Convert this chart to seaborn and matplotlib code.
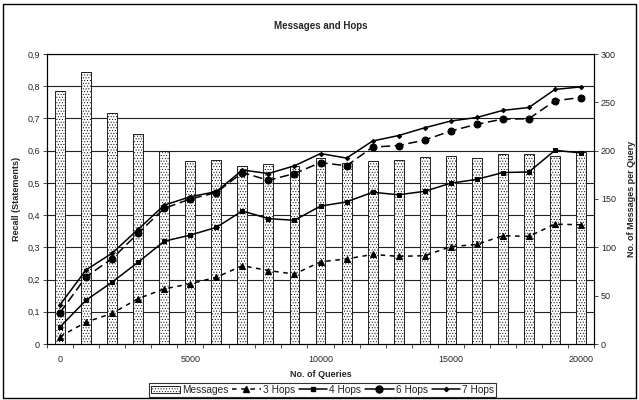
import numpy as np
import pandas as pd
import matplotlib
matplotlib.use('Agg')
import matplotlib.pyplot as plt
import seaborn as sns
from matplotlib.patches import Rectangle, Patch
from matplotlib.lines import Line2D
from matplotlib.ticker import FuncFormatter, FixedLocator

queries = list(range(0, 20001, 1000))
messages = [262, 281, 239, 217, 200, 189, 190, 184, 186, 184, 192, 187,
            189, 190, 193, 194, 192, 197, 197, 195, 199]
hops3 = [0.023, 0.068, 0.095, 0.141, 0.171, 0.187, 0.207, 0.243, 0.228, 0.217, 0.255,
         0.264, 0.278, 0.272, 0.274, 0.302, 0.309, 0.336, 0.334, 0.372, 0.370]
hops4 = [0.053, 0.136, 0.192, 0.254, 0.319, 0.338, 0.362, 0.413, 0.389, 0.384, 0.428,
         0.441, 0.471, 0.463, 0.474, 0.499, 0.511, 0.532, 0.534, 0.601, 0.593]
hops6 = [0.097, 0.209, 0.265, 0.344, 0.421, 0.450, 0.470, 0.532, 0.508, 0.529, 0.563,
         0.553, 0.611, 0.616, 0.633, 0.661, 0.682, 0.698, 0.699, 0.755, 0.765]
hops7 = [0.122, 0.230, 0.282, 0.356, 0.431, 0.457, 0.473, 0.540, 0.529, 0.553, 0.591,
         0.577, 0.630, 0.647, 0.671, 0.692, 0.703, 0.725, 0.734, 0.790, 0.798]

df = pd.DataFrame({'queries': queries, 'messages': messages,
                   'h3': hops3, 'h4': hops4, 'h6': hops6, 'h7': hops7})

sns.set_style('white')
plt.rcParams['font.family'] = ['Liberation Sans', 'DejaVu Sans']
plt.rcParams['hatch.linewidth'] = 0.4

fig = plt.figure(figsize=(6.39, 4.0), dpi=100)
ax = fig.add_axes([0.0736, 0.14, 0.856, 0.725])
ax2 = ax.twinx()

# bars on the right axis
sns.barplot(data=df, x='queries', y='messages', ax=ax2, native_scale=True,
            width=0.38, color='white', edgecolor='black', linewidth=0.6,
            hatch='......', zorder=2)
ax2.set_ylim(0, 300)
ax2.set_yticks(range(0, 301, 50))
for k in range(1, 10):
    ax2.axhline(k * 300 / 9, color='#222222', lw=0.8, zorder=0)

# lines on the left axis, drawn above the bars
ax.set_zorder(ax2.get_zorder() + 1)
ax.patch.set_visible(False)
kw = dict(color='black', lw=1.1, markeredgecolor='black', ax=ax)
sns.lineplot(data=df, x='queries', y='h3', marker='^', markersize=4.5,
             linestyle=(0, (3, 3)), **kw)
sns.lineplot(data=df, x='queries', y='h4', marker='s', markersize=3.5, **kw)
sns.lineplot(data=df, x='queries', y='h6', marker='o', markersize=5,
             linestyle=(0, (6, 3)), **kw)
sns.lineplot(data=df, x='queries', y='h7', marker='D', markersize=2.2, **kw)

ax.set_xlim(-500, 20500)
ax.set_ylim(0, 0.9)
ax.set_yticks(np.arange(0, 0.91, 0.1))
ax.yaxis.set_major_formatter(FuncFormatter(lambda v, p: '0' if abs(v) < 1e-9 else f'{v:.1f}'.replace('.', ',')))
ax.set_xticks(range(0, 20001, 5000))
ax.xaxis.set_minor_locator(FixedLocator(np.arange(-500, 20501, 1000)))
ax.tick_params(axis='x', which='major', length=0, labelsize=6.5, pad=8)
ax.tick_params(axis='x', which='minor', length=3, width=0.6, direction='out', bottom=True)
ax.tick_params(axis='y', length=3, width=0.6, direction='out', labelsize=6.5, left=True, pad=2)
ax2.tick_params(axis='y', length=3, width=0.6, direction='out', labelsize=6.5, right=True, pad=2)
ax2.set_xlim(-500, 20500)

for a in (ax, ax2):
    for s in a.spines.values():
        s.set_color('black')
        s.set_linewidth(0.8)

ax.set_xlabel('No. of Queries', fontsize=6.5, fontweight='bold', labelpad=4)
ax.set_ylabel('Recall (Statements)', fontsize=6.5, fontweight='bold', labelpad=5)
ax2.set_ylabel('No. of Messages per Query', fontsize=6.5, fontweight='bold', labelpad=8)
ax.set_title('Messages and Hops', fontsize=7, fontweight='bold', pad=18)

handles = [Patch(facecolor='white', edgecolor='black', hatch='......', lw=0.6),
           Line2D([], [], color='black', lw=1.1, ls=(0, (3, 3)), marker='^', ms=4.5),
           Line2D([], [], color='black', lw=1.1, marker='s', ms=3.5),
           Line2D([], [], color='black', lw=1.1, marker='o', ms=5),
           Line2D([], [], color='black', lw=1.1, marker='D', ms=2.2)]
labels = ['Messages', '3 Hops', '4 Hops', '6 Hops', '7 Hops']
leg = fig.legend(handles, labels, loc='lower center', bbox_to_anchor=(0.505, 0.008),
                 ncol=5, fontsize=7.3, frameon=True, fancybox=False, edgecolor='black',
                 handlelength=2.8, handletextpad=0.2, columnspacing=0.4,
                 borderpad=0.2, borderaxespad=0)
leg.get_frame().set_linewidth(0.8)

fig.patches.append(Rectangle((0.004, 0.005), 0.992, 0.985, transform=fig.transFigure,
                             fill=False, edgecolor='black', lw=1))

fig.savefig('out.png', dpi=100)
